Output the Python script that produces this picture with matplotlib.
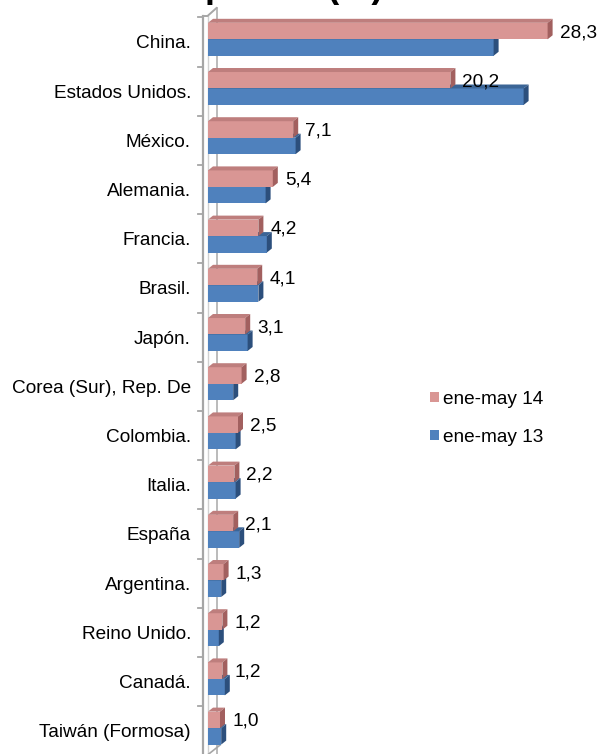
import matplotlib
matplotlib.use("Agg")
import matplotlib.pyplot as plt
from matplotlib.patches import Polygon, Patch
import numpy as np

plt.rcParams['font.family'] = ['Liberation Sans', 'DejaVu Sans']

categories = ["China.", "Estados Unidos.", "México.", "Alemania.", "Francia.",
              "Brasil.", "Japón.", "Corea (Sur), Rep. De", "Colombia.", "Italia.",
              "España", "Argentina.", "Reino Unido.", "Canadá.", "Taiwán (Formosa)"]
values_14 = [28.3, 20.2, 7.1, 5.4, 4.2, 4.1, 3.1, 2.8, 2.5, 2.2, 2.1, 1.3, 1.2, 1.2, 1.0]
values_13 = [23.8, 26.3, 7.3, 4.8, 4.9, 4.2, 3.3, 2.1, 2.3, 2.3, 2.6, 1.1, 0.9, 1.4, 1.1]
series_names = ["ene-may 14", "ene-may 13"]
value_labels = ["28,3", "20,2", "7,1", "5,4", "4,2", "4,1", "3,1", "2,8", "2,5", "2,2",
                "2,1", "1,3", "1,2", "1,2", "1,0"]

W, H = 597, 754
fig = plt.figure(figsize=(W / 100, H / 100), dpi=100)

# pixel geometry
x0_px, ppu = 208.0, 12.0          # x=0 position and pixels per unit
y0_px, ppc = 42.0, 49.2           # first category centre and pixels per category
ax_left_px = 200.0
ax = fig.add_axes([ax_left_px / W, 0, (W - ax_left_px) / W, 1])
ax.set_xlim((ax_left_px - x0_px) / ppu, (W - x0_px) / ppu)
ax.set_ylim((H - y0_px) / ppc, (0 - y0_px) / ppc)
for s in ax.spines.values():
    s.set_visible(False)
ax.set_xticks([])

def ypx(p):
    return (p - y0_px) / ppc

def xpx(p):
    return (p - x0_px) / ppu

pos = np.arange(len(categories))
h = 0.335
dx = 5 / ppu
dy = 4 / ppc

pink_front, pink_top, pink_side = "#D99694", "#BE7E7D", "#A2605F"
blue_front, blue_top, blue_side = "#4F81BD", "#3B6596", "#2C4F7C"
wall_col = "#A6A6A6"

# wall (front edge lines, back line, top)
wl1, wl2, wback = xpx(203), xpx(207.5), xpx(216.5)
ax.plot([wl1, wl1], [ypx(16), ypx(H + 5)], color=wall_col, lw=1.6, zorder=1, clip_on=False)
ax.plot([wl2, wl2], [ypx(16), ypx(H + 5)], color="#D0D0D0", lw=1.0, zorder=1, clip_on=False)
ax.plot([wback, wback], [ypx(8), ypx(H + 5)], color="#B5B5B5", lw=1.3, zorder=1)
ax.plot([wl1, wl2, wback], [ypx(16), ypx(16), ypx(8)], color=wall_col, lw=1.4, zorder=1)
ax.plot([wl2, wback + 0.3], [ypx(H + 1), ypx(H - 9)], color=wall_col, lw=1.2, zorder=1)

# ticks between categories
for b in np.arange(-0.5, len(categories), 1.0):
    ax.plot([xpx(198), wl1], [b, b], color=wall_col, lw=1.3, zorder=1, clip_on=False)

def draw_series(vals, top_off, front, topc, side, label):
    tops = pos + top_off
    ax.barh(tops + h / 2, vals, height=h, left=0, color=front, edgecolor='none',
            zorder=3, label=label)
    for yt, v in zip(tops, vals):
        yb = yt + h
        ax.add_patch(Polygon([(0, yt), (v, yt), (v + dx, yt - dy), (dx, yt - dy)],
                             closed=True, facecolor=topc, edgecolor='none', zorder=3))
        ax.add_patch(Polygon([(v, yt), (v, yb), (v + dx, yb - dy), (v + dx, yt - dy)],
                             closed=True, facecolor=side, edgecolor='none', zorder=3))

draw_series(values_13, -0.055, blue_front, blue_top, blue_side, series_names[1])
draw_series(values_14, -0.39, pink_front, pink_top, pink_side, series_names[0])

for p, v, t in zip(pos, values_14, value_labels):
    ax.text(v + 1.0, p - 0.19, t, ha='left', va='center', fontsize=13.7,
            color='black', zorder=5, clip_on=False)

ax.set_yticks(pos)
ax.set_yticklabels(categories, fontsize=13.7)
ax.tick_params(axis='y', length=0, pad=6.5)

handles = [Patch(facecolor=pink_front, edgecolor='none'),
           Patch(facecolor=blue_front, edgecolor='none')]
fig.legend(handles, series_names, loc='upper left',
           bbox_to_anchor=(430 / W, 1 - 391 / H), frameon=False, fontsize=13.7,
           handlelength=0.45, handleheight=0.45, handletextpad=0.25,
           labelspacing=1.1, borderpad=0, borderaxespad=0)

fig.text(294 / W, 1 + 2.6 / H, "países (%)", ha='center', va='baseline',
         fontsize=26, fontweight='bold')

fig.savefig("out.png", dpi=100)
